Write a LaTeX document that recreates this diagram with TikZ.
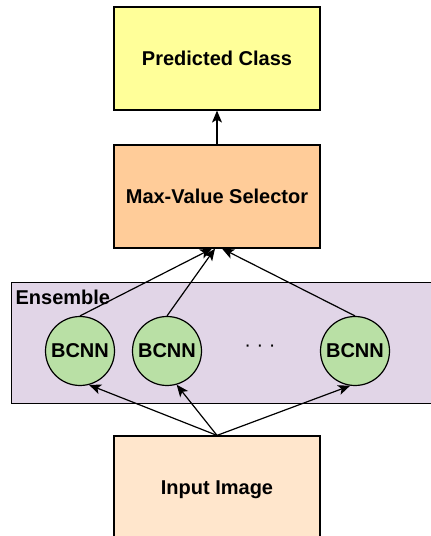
\documentclass[tikz,border=0pt]{standalone}
\usepackage{fontspec}
\setmainfont{Liberation Sans}
\usepackage{tikz}
\usetikzlibrary{shapes, arrows.meta, positioning}
\definecolor{predfill}{HTML}{FFFF99}
\definecolor{maxfill}{HTML}{FFCC99}
\definecolor{ensfill}{HTML}{E1D5E7}
\definecolor{netfill}{HTML}{B9E0A5}
\definecolor{imgfill}{HTML}{FFE6CC}
\tikzstyle{block}=[draw,rectangle,minimum width=206pt,minimum height=103pt]
\tikzstyle{net}=[draw,circle,fill=netfill,minimum size=69pt,inner sep=0pt]
\tikzstyle{every node}=[font=\fontsize{20}{24}\selectfont\bfseries]

\begin{document}
\begin{tikzpicture}[node distance=138pt,>={Stealth[length=12pt,width=10pt,inset=3pt]},line width=1.2pt]
    \useasboundingbox (0,0) rectangle (431pt,536pt);
    \node[block, fill=predfill] (pred) at (217pt,477.5pt) {Predicted Class};
    \node[block, fill=maxfill, below of=pred] (max) {Max-Value Selector};
    \node[block, fill=ensfill, anchor=north west, minimum width=430pt, minimum height=121pt] (ens) at (11pt,254pt) {};
    \node[anchor=north west, inner sep=0pt] (enslbl) at ([xshift=4pt,yshift=-7pt]ens.north west) {Ensemble};
    \node[net] (n1) at (80pt,185pt) {BCNN};
    \node[net, right of=n1, node distance=87pt] (n2) {BCNN};
    \node[net] (n3) at (355pt,185pt) {BCNN};
    \node[font=\fontsize{20}{24}\selectfont] (dots) at (260pt,188pt) {· · ·};
    \node[block, fill=imgfill, minimum height=108pt] (img) at (217pt,46pt) {Input Image};
    \draw[->] (max) -- (pred);
    \draw[->] (n1.north) -- ([xshift=-5pt]max.south);
    \draw[->] (n2.north) -- ([xshift=-2pt]max.south);
    \draw[->] (n3.north) -- ([xshift=5pt]max.south);
    \draw[->] (img.north) -- (n1.-75);
    \draw[->] (img.north) -- (n2.-74);
    \draw[->] (img.north) -- (n3.-98);
\end{tikzpicture}
\end{document}
